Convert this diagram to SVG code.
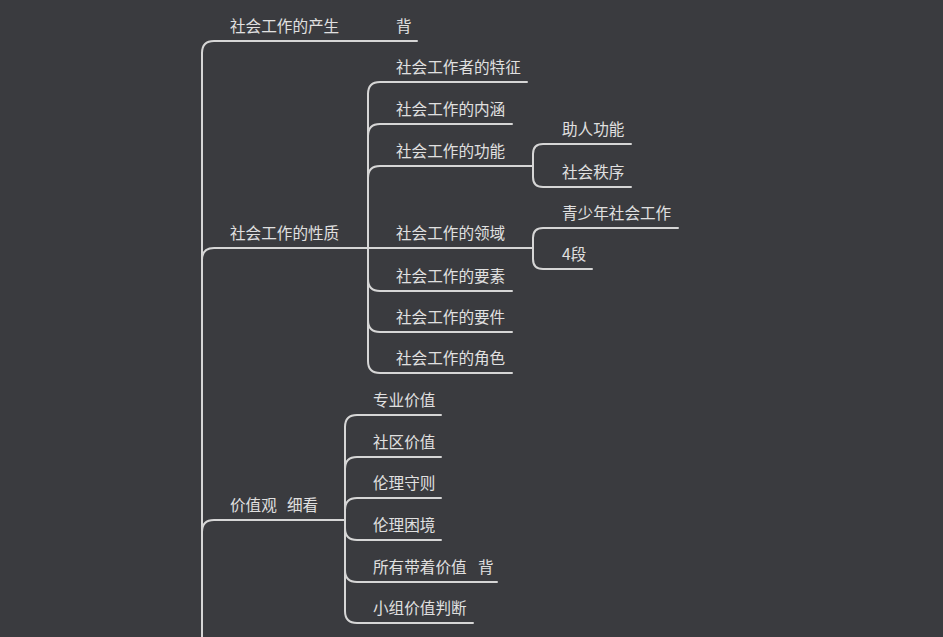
<svg xmlns="http://www.w3.org/2000/svg" width="943" height="637" viewBox="0 0 943 637">
<style>
.bg{fill:#3a3b3f}
.c path{fill:none;stroke:#d6d6d6;stroke-width:2;stroke-linecap:round}
text{font-family:"Noto Sans CJK SC","Noto Sans",sans-serif;font-size:15.6px;fill:#e0e0e0}
</style>
<rect class="bg" x="0" y="0" width="943" height="637"/>
<g id="connectors" class="c">
<path d="M202,637 V53 Q202,41 214,41 H417"/>
<path d="M202,637 V260 Q202,248 214,248 H533"/>
<path d="M202,637 V532 Q202,520 214,520 H345"/>
<path d="M368,248 V94 Q368,82 380,82 H527"/>
<path d="M368,248 V136 Q368,124 380,124 H512"/>
<path d="M368,248 V178 Q368,166 380,166 H533"/>
<path d="M368,248 V279 Q368,291 380,291 H512"/>
<path d="M368,248 V320 Q368,332 380,332 H512"/>
<path d="M368,248 V361 Q368,373 380,373 H512"/>
<path d="M533,166 V154 Q533,144 543,144 H631"/>
<path d="M533,166 V177 Q533,187 543,187 H631"/>
<path d="M533,248 V238 Q533,228 543,228 H678"/>
<path d="M533,248 V259 Q533,269 543,269 H592"/>
<path d="M345,520 V427 Q345,415 357,415 H441"/>
<path d="M345,520 V469 Q345,457 357,457 H441"/>
<path d="M345,520 V510 Q345,498 357,498 H441"/>
<path d="M345,520 V528 Q345,540 357,540 H441"/>
<path d="M345,520 V570 Q345,582 357,582 H497"/>
<path d="M345,520 V611 Q345,623 357,623 H473"/>
</g>
<g id="n-chansheng"><text x="230" y="31.5">社会工作的产生<tspan x="396">背</tspan></text></g>
<g id="n-xingzhi"><text x="230" y="238.5">社会工作的性质</text></g>
<g id="n-jiazhiguan"><text x="230" y="510.5">价值观<tspan x="287">细看</tspan></text></g>
<g id="n-tezheng"><text x="396" y="72.5">社会工作者的特征</text></g>
<g id="n-neihan"><text x="396" y="114.5">社会工作的内涵</text></g>
<g id="n-gongneng"><text x="396" y="156.5">社会工作的功能</text></g>
<g id="n-lingyu"><text x="396" y="238.5">社会工作的领域</text></g>
<g id="n-yaosu"><text x="396" y="281.5">社会工作的要素</text></g>
<g id="n-yaojian"><text x="396" y="322.5">社会工作的要件</text></g>
<g id="n-jiaose"><text x="396" y="363.5">社会工作的角色</text></g>
<g id="n-zhuren"><text x="562" y="134.5">助人功能</text></g>
<g id="n-zhixu"><text x="562" y="177.5">社会秩序</text></g>
<g id="n-qingshaonian"><text x="562" y="218.5">青少年社会工作</text></g>
<g id="n-siduan"><text x="562" y="259.5">4段</text></g>
<g id="n-zhuanye"><text x="373" y="405.5">专业价值</text></g>
<g id="n-shequ"><text x="373" y="447.5">社区价值</text></g>
<g id="n-shouze"><text x="373" y="488.5">伦理守则</text></g>
<g id="n-kunjing"><text x="373" y="530.5">伦理困境</text></g>
<g id="n-suoyou"><text x="373" y="572.5">所有带着价值<tspan x="478">背</tspan></text></g>
<g id="n-xiaozu"><text x="373" y="613.5">小组价值判断</text></g>
</svg>
